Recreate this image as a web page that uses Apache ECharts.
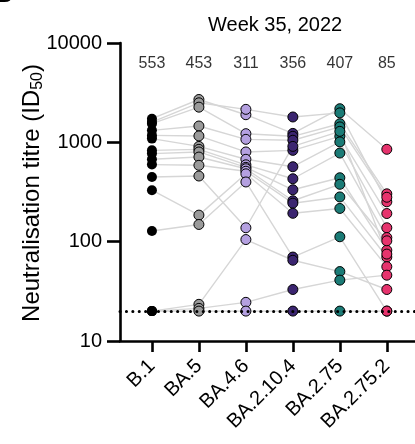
<!DOCTYPE html>
<html>
<head>
<meta charset="utf-8">
<script src="https://cdn.jsdelivr.net/npm/echarts@6/dist/echarts.min.js"></script>
<style>html,body{margin:0;padding:0;background:#fff}#c{width:415px;height:444px}</style>
</head>
<body>
<div id="c"></div>
<script>
// Categories (variants)
var categories = ['B.1', 'BA.5', 'BA.4.6', 'BA.2.10.4', 'BA.2.75', 'BA.2.75.2'];
// Geometric mean labels shown above each column
var gmLabels = ['553', '453', '311', '356', '407', '85'];
// Neutralisation titres per variant, index = donor (paired samples)
var b1      = [1730, 1600, 1540, 1320, 1175, 1090, 830, 770, 675, 597, 448, 330, 128, 20, 20, 20];
var ba5     = [2700, 2500, 2260, 1460, 1160, 910, 850, 800, 711, 587, 458, 185, 149, 23.4, 21.3, 20];
var ba46    = [1897, 2148, 1222, 1072, 800, 675, 594, 560, 542, 512, 138, 482, 399, 105, 24.5, 20];
var ba2104  = [1230, 1800, 1150, 1050, 830, 568, 430, 333, 258, 244, 910, 193, 70, 65, 33, 20];
var ba275   = [2180, 1980, 1540, 1430, 1150, 1010, 780, 440, 378, 282, 1290, 216, 112, 50, 41, 20];
var ba2752  = [851, 252, 303, 280, 192, 138, 110, 82, 102, 70, 75, 56, 20, 33, 46, 20];
var detectionLimit = 20;
var labelLevel = 6200;

var FONT = 'Liberation Sans, Arial, sans-serif';
var columns = [b1, ba5, ba46, ba2104, ba275, ba2752];
var colors = ['#000000', '#9a9a9a', '#b4a0e0', '#3b2570', '#1b7b76', '#e6336d'];
var idx = [0, 1, 2, 3, 4, 5];

var series = [];
// donor lines
for (var d = 0; d < b1.length; d++) {
  series.push({
    type: 'line', silent: true, symbol: 'none', z: 1,
    data: columns.map(function (col, i) { return [i, col[d]]; }),
    lineStyle: { color: '#d6d6d6', width: 1.4 }
  });
}
// detection limit dotted line
series.push({
  type: 'line', data: [], z: 2, silent: true,
  markLine: {
    silent: true, symbol: 'none', label: { show: false },
    lineStyle: { color: '#000', width: 3, type: [0.1, 6.3], cap: 'round' },
    data: [{ yAxis: detectionLimit }]
  }
});
// points
columns.forEach(function (col, i) {
  series.push({
    type: 'scatter', z: 3, symbolSize: 10,
    data: col.map(function (v) { return [i, v]; }),
    itemStyle: { color: colors[i], borderColor: '#000', borderWidth: i === 0 ? 0 : 1, opacity: 1 }
  });
});
// geometric mean labels
series.push({
  type: 'scatter', z: 4, symbolSize: 0, silent: true,
  data: idx.map(function (i) { return [i, labelLevel]; }),
  label: {
    show: true, position: 'inside', color: '#000', fontSize: 16, fontFamily: FONT,
    formatter: function (p) { return gmLabels[p.dataIndex]; }
  }
});

var chart = echarts.init(document.getElementById('c'), null, { renderer: 'canvas' });
chart.setOption({
  animation: false,
  backgroundColor: '#fff',
  textStyle: { fontFamily: FONT },
  title: {
    text: 'Week 35, 2022', left: 203, top: 10,
    textStyle: { fontSize: 20, fontWeight: 'normal', color: '#000', fontFamily: FONT }
  },
  grid: { left: 120, right: 0, top: 43, bottom: 103 },
  xAxis: {
    type: 'value', min: -0.68, max: 5.6,
    axisLine: { show: true, onZero: false, lineStyle: { color: '#000', width: 2.6 } },
    axisTick: { show: true, customValues: idx, length: 11, lineStyle: { color: '#000', width: 2.6 } },
    axisLabel: {
      customValues: idx, rotate: 45, fontSize: 20, color: '#000', margin: 22,
      formatter: function (v) { return categories[Math.round(v)]; }
    },
    splitLine: { show: false }
  },
  yAxis: {
    type: 'log', logBase: 10, min: 10, max: 10000,
    axisLine: { show: true, onZero: false, lineStyle: { color: '#000', width: 2.6 } },
    axisTick: { show: true, inside: false, length: 13, lineStyle: { color: '#000', width: 2.6 } },
    minorTick: { show: false },
    axisLabel: { fontSize: 20, color: '#000', margin: 18, formatter: function (v) { return String(Math.round(v)); } },
    splitLine: { show: false }
  },
  graphic: [
    {
      type: 'text', x: 32, y: 193, rotation: Math.PI / 2,
      style: {
        text: '{a|Neutralisation titre (ID}{s|50}{a|)}',
        textAlign: 'center', textVerticalAlign: 'middle',
        rich: {
          a: { fontSize: 24, fill: '#000', fontFamily: FONT, lineHeight: 28 },
          s: { fontSize: 16, fill: '#000', fontFamily: FONT, lineHeight: 28, verticalAlign: 'bottom', padding: [12, 0, 0, 0] }
        }
      }
    },
    {
      type: 'text', x: -6, y: 8,
      style: { text: 'B', fontSize: 26, fontWeight: 'bold', fill: '#000', fontFamily: FONT, textVerticalAlign: 'bottom' }
    }
  ],
  series: series
});
</script>
</body>
</html>
